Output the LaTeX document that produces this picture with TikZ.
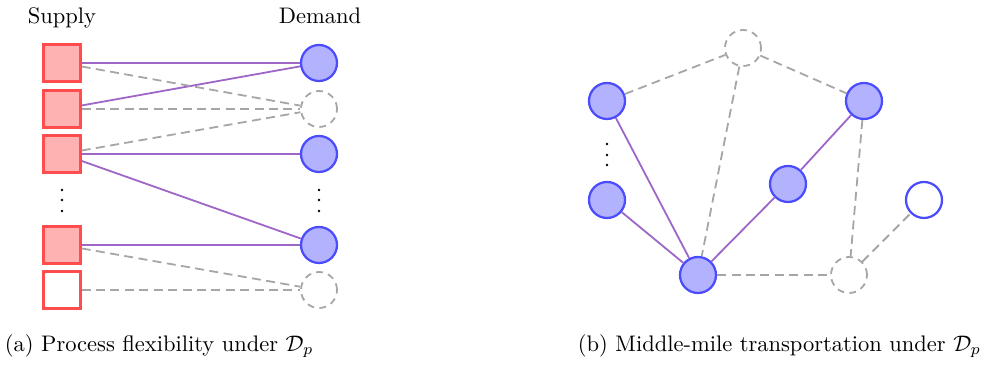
\documentclass[tikz,border=0pt]{standalone}
\usepackage{amsmath,amssymb}
\usepackage{xcolor}
\usetikzlibrary{positioning}
\definecolor{flowline}{rgb}{0.62,0.40,0.78}

\begin{document}
\begin{tikzpicture}[x=0.4444pt,y=-0.4444pt,
  supply/.style={draw=red!70,fill=red!30,line width=1pt,minimum size=16.5pt,inner sep=0pt},
  spare/.style={supply,fill=white},
  demand/.style={circle,draw=blue!70,fill=blue!30,line width=1pt,minimum size=16pt,inner sep=0pt},
  open/.style={demand,fill=white},
  idle/.style={circle,draw=gray!70,line width=0.8pt,dash pattern=on 3pt off 2.4pt,minimum size=16pt,inner sep=0pt},
  used/.style={draw=flowline,line width=0.8pt},
  unused/.style={draw=gray!70,line width=0.8pt,dash pattern=on 4pt off 2.4pt},
  lbl/.style={anchor=base}]
  \useasboundingbox (0,0) rectangle (989,378);

  % (a) 供給と需要
  \node[lbl] (suplbl) at (62,24) {Supply};
  \node[lbl] (demlbl) at (320,24) {Demand};
  \foreach \n/\y in {1/63,2/109,3/154,4/245}
    \node[supply] (s\n) at (62,\y) {};
  \node[spare] (s5) at (62,290) {};

  \node[demand] (d1) at (319,63) {};
  \node[idle]   (d2) at (319,109) {};
  \node[demand] (d3) at (319,154) {};
  \node[demand] (d4) at (319,245) {};
  \node[idle]   (d5) at (319,290) {};

  \foreach \y in {190,200,211} {
    \fill (62,\y) circle (0.65pt);
    \fill (319,\y) circle (0.65pt);
  }

  % 使われる辺と使われない辺
  \foreach \a/\b in {s1/d1,s2/d1,s3/d3,s3/d4,s4/d4}
    \draw[used] (\a) -- (\b);
  \foreach \a/\b in {s1/d2,s2/d2,s3/d2,s4/d5,s5/d5}
    \draw[unused] (\a) -- (\b);

  % (b) 中間輸送網
  \node[demand] (ha) at (607,101) {};
  \node[demand] (hb) at (607,200) {};
  \node[demand] (hc) at (698,275) {};
  \node[demand] (hd) at (788,184) {};
  \node[demand] (he) at (864,101) {};
  \node[idle]   (hf) at (743,48) {};
  \node[idle]   (hg) at (849,275) {};
  \node[open]   (hh) at (924,200) {};

  \foreach \y in {144,155,165}
    \fill (607,\y) circle (0.65pt);

  \foreach \a/\b in {ha/hc,hb/hc,hc/hd,hd/he}
    \draw[used] (\a) -- (\b);
  \foreach \a/\b in {ha/hf,hf/he,hf/hc,he/hg,hc/hg,hg/hh}
    \draw[unused] (\a) -- (\b);

  % キャプション
  \node[anchor=west] (capa) at (-3,346) {(a) Process flexibility under $\mathcal{D}_p$};
  \node[anchor=east] (capb) at (989,346) {(b) Middle-mile transportation under $\mathcal{D}_p$};
\end{tikzpicture}
\end{document}
